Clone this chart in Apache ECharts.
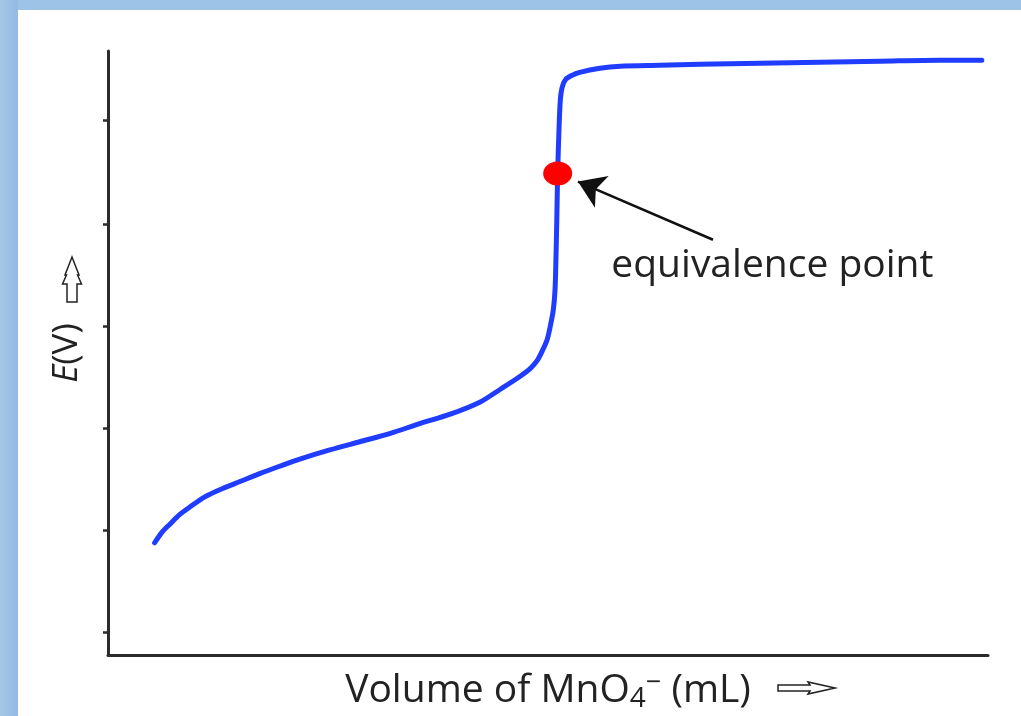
<!DOCTYPE html>
<html>
<head>
<meta charset="utf-8">
<script src="https://cdn.jsdelivr.net/npm/echarts@6/dist/echarts.min.js"></script>
<style>
html,body{margin:0;padding:0;background:#9dc3e6;overflow:hidden;}
#c{width:1021px;height:716px;}
</style>
</head>
<body>
<div id="c"></div>
<script>
// Volume of MnO4- added (arbitrary mL scale) and potential E (arbitrary V scale)
const volume = [5.3, 6.1, 7.0, 8.2, 9.3, 11.0, 12.7, 15.0, 17.3, 19.5, 21.8, 25.2, 28.6, 32.0, 35.5, 38.9, 42.3, 44.5, 46.8, 48.0, 48.8, 49.4, 49.9, 50.3, 50.6, 50.8, 50.9, 51.0, 51.1, 51.25, 51.4, 51.6, 52.0, 52.7, 53.6, 55.9, 58.2, 62.7, 67.3, 74.1, 80.9, 87.7, 94.5, 99.3];
const potential = [1.10, 1.20, 1.28, 1.38, 1.45, 1.55, 1.62, 1.70, 1.78, 1.85, 1.92, 2.01, 2.09, 2.17, 2.27, 2.36, 2.48, 2.60, 2.73, 2.81, 2.89, 2.99, 3.09, 3.24, 3.38, 3.58, 3.87, 4.27, 4.73, 5.15, 5.44, 5.56, 5.64, 5.68, 5.71, 5.75, 5.77, 5.78, 5.79, 5.80, 5.81, 5.82, 5.83, 5.83];
const equivalencePoint = [51.1, 4.72];
const arrowFrom = [68.75, 4.07];
const arrowTo = [53.4, 4.64];
const annotationAt = [57.2, 3.81];
const annotationText = 'equivalence point';
const yTickValues = [0.225, 1.225, 2.225, 3.225, 4.22, 5.245];
const xAxisName = 'Volume of MnO{sub|4}{sup|\u2212} (mL)';
const yAxisName = '{it|E}(V)';

const chart = echarts.init(document.getElementById('c'), null, {renderer: 'canvas'});
const font = '"Open Sans", "Noto Sans", sans-serif';
chart.setOption({
  animation: false,
  backgroundColor: '#9dc3e6',
  graphic: [
    {type: 'rect', z: -10, shape: {x: 0, y: 0, width: 18, height: 716},
     style: {fill: new echarts.graphic.LinearGradient(0, 0, 1, 0, [{offset: 0, color: '#a6c6e6'}, {offset: 1, color: '#93bbe3'}])}},
    {type: 'rect', z: -9, shape: {x: 18, y: 10, width: 1003, height: 706}, style: {fill: '#ffffff'}},
    {type: 'polygon', z: 10,
     shape: {points: [[778,685],[810,685],[808,682],[835,688],[808,694],[810,691],[778,691]]},
     style: {fill: '#ffffff', stroke: '#222', lineWidth: 1.5}},
    {type: 'polygon', z: 10,
     shape: {points: [[67,302],[77,302],[77,284],[81.5,284],[77.5,275],[79,275],[72,257],[65,275],[66.5,275],[62.5,284],[67,284]]},
     style: {fill: '#ffffff', stroke: '#222', lineWidth: 1.5}}
  ],
  grid: {left: 108, right: 33, top: 51, bottom: 61, containLabel: false, outerBoundsMode: 'none'},
  xAxis: {
    type: 'value', min: 0, max: 100,
    name: xAxisName, nameLocation: 'middle', nameGap: 14,
    nameTextStyle: {
      fontFamily: font, fontSize: 39, color: '#222',
      rich: {
        sub: {fontFamily: font, fontSize: 28, color: '#222', padding: [16, 0, 0, 0]},
        sup: {fontFamily: font, fontSize: 27, color: '#222', padding: [0, 0, 16, 0]}
      }
    },
    axisLine: {show: true, lineStyle: {color: '#2b2b2b', width: 3}},
    axisTick: {show: false}, axisLabel: {show: false}, splitLine: {show: false}
  },
  yAxis: {
    type: 'value', min: 0, max: 5.92,
    name: yAxisName, nameLocation: 'middle', nameGap: 23, nameRotate: 90,
    nameTextStyle: {
      fontFamily: font, fontSize: 35, color: '#222',
      rich: {it: {fontFamily: font, fontSize: 35, fontStyle: 'italic', color: '#222'}}
    },
    axisLine: {show: true, lineStyle: {color: '#2b2b2b', width: 3}},
    axisTick: {show: true, length: 5, customValues: yTickValues, lineStyle: {color: '#2b2b2b', width: 2.5}},
    axisLabel: {show: false}, splitLine: {show: false}
  },
  series: [
    {
      type: 'line',
      data: volume.map((v, i) => [v, potential[i]]),
      showSymbol: false, smooth: 0.3,
      lineStyle: {color: '#1f3cff', width: 5, cap: 'round', join: 'round'},
      markLine: {
        silent: true, symbol: ['none', 'arrow'], symbolSize: 26,
        label: {show: false},
        lineStyle: {color: '#111', width: 2.5, type: 'solid'},
        data: [[{coord: arrowFrom}, {coord: arrowTo}]]
      },
      markPoint: {
        silent: true, symbol: 'circle', symbolSize: 0,
        label: {show: true, position: 'right', distance: 0, formatter: annotationText,
          fontFamily: font, fontSize: 39, color: '#222'},
        data: [{coord: annotationAt}]
      }
    },
    {
      type: 'scatter',
      data: [equivalencePoint],
      symbol: 'circle', symbolSize: [29, 24],
      itemStyle: {color: '#ff0000', opacity: 1}, z: 5
    }
  ]
});
</script>
</body>
</html>
